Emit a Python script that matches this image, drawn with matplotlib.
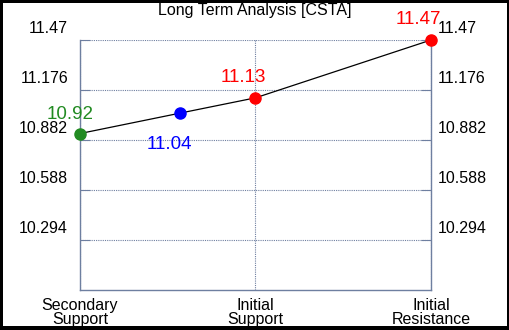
import matplotlib
matplotlib.use('Agg')
import matplotlib.pyplot as plt
from matplotlib.patches import Rectangle
import matplotlib.transforms as mtransforms

plt.rcParams['font.family'] = ['Liberation Sans', 'DejaVu Sans']

# data
title = 'Long Term Analysis [CSTA]'
categories = ['Secondary\nSupport', 'Initial\nSupport', 'Initial\nResistance']
cat_pos = [0, 1, 2]
point_x = [0, 0.57, 1, 2]
point_y = [10.92, 11.04, 11.13, 11.47]
point_labels = ['10.92', '11.04', '11.13', '11.47']
point_colors = ['#228b22', '#0000ff', '#ff0000', '#ff0000']
yticks = [11.47, 11.176, 10.882, 10.588, 10.294]
ymin, ymax = 10.0, 11.47

label_offsets = [(-7, 13.5), (-8, -22.5), (-9, 14.5), (-9, 14.5)]
axis_col = '#6e7fa0'

fig = plt.figure(figsize=(5.1, 3.3), dpi=100, facecolor='black')
fig.patches.append(Rectangle((3/510, 4/330), 504/510, 323/330, transform=fig.transFigure,
                             facecolor='white', edgecolor='none', zorder=-10))
ax = fig.add_axes([80/510, 40/330, 351/510, 250/330])
ax.set_facecolor('white')

ax.plot(point_x, point_y, color='black', lw=0.9, zorder=2)
for x, y, c, t, off in zip(point_x, point_y, point_colors, point_labels, label_offsets):
    ax.plot(x, y, 'o', color=c, ms=8, zorder=3, clip_on=False)
    ax.annotate(t, (x, y), xytext=off, textcoords='offset points', color=c,
                fontsize=13.5, ha='center', va='center')

ax.set_xlim(0, 2)
ax.set_ylim(ymin, ymax)
ax.set_xticks(cat_pos)
ax.set_xticklabels(categories, fontsize=11.5, linespacing=0.9)
ax.set_yticks(yticks)
ax.set_yticklabels(['%g' % v for v in yticks], fontsize=11.5)
ax.tick_params(axis='y', which='both', direction='in', length=7, color=axis_col,
               left=True, right=True, labelleft=True, labelright=True, pad=5)
ax.tick_params(axis='x', length=0, pad=6)

# y tick labels sit a bit above their gridlines in the original
shift1 = mtransforms.ScaledTranslation(-5/100, 13/100, fig.dpi_scale_trans)
shift2 = mtransforms.ScaledTranslation(0, 13/100, fig.dpi_scale_trans)
for t in ax.yaxis.get_major_ticks():
    t.label1.set_transform(t.label1.get_transform() + shift1)
    t.label2.set_transform(t.label2.get_transform() + shift2)

ax.grid(True, color=axis_col, linestyle=(0, (1, 1)), lw=0.8)
for s in ['left', 'right', 'bottom']:
    ax.spines[s].set_color(axis_col)
    ax.spines[s].set_linewidth(1)
ax.spines['top'].set_visible(False)

fig.text(0.5, 1 - 11/330, title, ha='center', va='center', fontsize=11.5)

fig.savefig('out.png', dpi=100, facecolor='black')
